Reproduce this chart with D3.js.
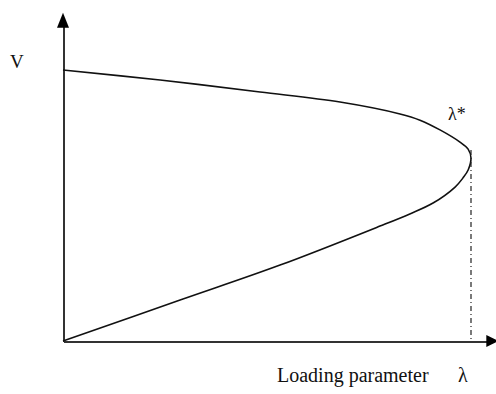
<!DOCTYPE html>
<meta charset="utf-8">
<style>
  body { margin: 0; background: #fff; }
  .axis path { fill: none; stroke: #333; stroke-width: 2; shape-rendering: crispEdges; }
</style>
<script src="https://d3js.org/d3.v7.min.js"></script>
<div id="my_dataviz"></div>
<script>

// nose curve (lambda, V in per unit)
var upperLambda = [0, 0.238, 0.483, 0.679, 0.826, 0.875, 0.924, 0.973, 0.993, 1.0];
var upperV      = [1.0, 0.963, 0.919, 0.882, 0.838, 0.815, 0.779, 0.734, 0.708, 0.675];
var lowerLambda = [0.993, 0.980, 0.961, 0.907, 0.850, 0.777, 0.532, 0.287, 0];
var lowerV      = [0.631, 0.601, 0.568, 0.509, 0.469, 0.424, 0.280, 0.151, 0];
var lambdaStar  = 1.0;
var axisEnd     = [1.04, 1.16];   // lambda end, V end of the arrows
var labels      = { y: "V", x: "Loading parameter", xSym: "\u03bb", star: "\u03bb*" };

var W = 496, H = 394;
var serif = "'Liberation Serif', 'Times New Roman', 'DejaVu Serif', serif";
var svg = d3.select("#my_dataviz").append("svg")
    .attr("width", W).attr("height", H);

var x = d3.scaleLinear().domain([0, axisEnd[0]]).range([63, 63 + axisEnd[0] * 408]);
var y = d3.scaleLinear().domain([0, axisEnd[1]]).range([341, 341 - axisEnd[1] * 271]);

// axes, no ticks
svg.append("g").attr("class", "axis")
    .attr("transform", "translate(0," + y(0) + ")")
    .call(d3.axisBottom(x).ticks(0).tickSizeOuter(0));
svg.append("g").attr("class", "axis")
    .attr("transform", "translate(" + x(0) + ",0)")
    .call(d3.axisLeft(y).ticks(0).tickSizeOuter(0));

// arrow heads
var xe = x(axisEnd[0]), ye = y(axisEnd[1]);
svg.append("path")
    .attr("d", "M" + (xe - 1) + "," + (y(0) - 6) + "L" + (xe + 11) + "," + y(0) + "L" + (xe - 1) + "," + (y(0) + 6) + "Z")
    .attr("fill", "#000");
svg.append("path")
    .attr("d", "M" + (x(0) - 6) + "," + (ye + 1) + "L" + x(0) + "," + (ye - 14) + "L" + (x(0) + 6) + "," + (ye + 1) + "Z")
    .attr("fill", "#000");

// curve points, top branch then bottom branch
var pts = upperLambda.map(function(l, i) { return [l, upperV[i]]; })
    .concat(lowerLambda.map(function(l, i) { return [l, lowerV[i]]; }));

var line = d3.line()
    .x(function(d) { return x(d[0]); })
    .y(function(d) { return y(d[1]); })
    .curve(d3.curveCatmullRom.alpha(0.5));

svg.append("path")
    .datum(pts)
    .attr("d", line)
    .attr("fill", "none")
    .attr("stroke", "#111")
    .attr("stroke-width", 1.6);

// dash-dot drop line at the nose
var noseV = upperV[upperV.length - 1];
svg.append("line")
    .attr("x1", x(lambdaStar)).attr("x2", x(lambdaStar))
    .attr("y1", y(noseV + 0.03)).attr("y2", y(0))
    .attr("stroke", "#222")
    .attr("stroke-width", 1.2)
    .attr("stroke-dasharray", "5,3,1,3");

// labels
function label(txt, px, py, size) {
  svg.append("text")
      .attr("x", px).attr("y", py)
      .attr("font-family", serif)
      .attr("font-size", size)
      .attr("fill", "#111")
      .text(txt);
}
label(labels.y, 10, 68, 19);
label(labels.x, 277, 382, 20);
label(labels.xSym, 458, 382, 20);
label(labels.star, 448, 120, 18);

</script>
